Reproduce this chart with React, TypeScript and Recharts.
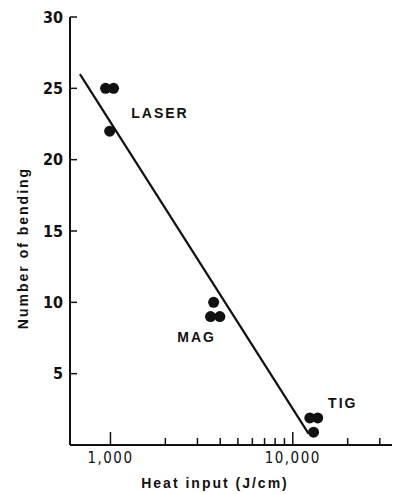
import { ComposedChart, Label, Line, ReferenceDot, Scatter, XAxis, YAxis } from 'recharts'

// measured points (heat input J/cm, number of bendings)
const laserHeat = [940, 1040, 990]
const laserBends = [25, 25, 22]
const magHeat = [3680, 3540, 3980]
const magBends = [10, 9, 9]
const tigHeat = [12400, 13700, 13000]
const tigBends = [1.9, 1.9, 0.9]

// fitted line end points
const fitHeat = [680, 12200]
const fitBends = [26, 0.8]

const groupNames = ['LASER', 'MAG', 'TIG']
const labelHeat = [1870, 2970, 18800]
const labelBends = [23.3, 7.6, 2.95]

const xTicks = [1000, 2000, 3000, 4000, 5000, 6000, 7000, 8000, 9000, 10000, 20000, 30000]
const xTickLabels: Record<number, string> = { 1000: '1,000', 10000: '10,000' }
const yTicks = [5, 10, 15, 20, 25, 30]

const INK = '#111'
const TICK_FONT = '"Liberation Sans Narrow", "DejaVu Sans Condensed", "Liberation Sans", sans-serif'
const LABEL_FONT = '"Liberation Sans", Arial, sans-serif'

const zip = (xs: number[], ys: number[]) => xs.map((x, i) => ({ x, y: ys[i] }))
const points = [
  ...zip(laserHeat, laserBends),
  ...zip(magHeat, magBends),
  ...zip(tigHeat, tigBends),
]
const fit = zip(fitHeat, fitBends)

function XTick({ x, y, payload }: any) {
  const text = xTickLabels[payload.value]
  return (
    <g>
      <line x1={x} x2={x} y1={y} y2={y - (text ? 13 : 7)} stroke={INK} strokeWidth={1.5} />
      {text && (
        <text x={x} y={y + 18} textAnchor="middle" fill={INK} fontFamily={TICK_FONT}
          fontSize={15} letterSpacing={1.5}>
          {text}
        </text>
      )}
    </g>
  )
}

function YTick({ x, y, payload }: any) {
  return (
    <g>
      <line x1={x} x2={x + 7} y1={y} y2={y} stroke={INK} strokeWidth={1.5} />
      <text x={x - 7} y={y} dy="0.35em" textAnchor="end" fill={INK} fontFamily={TICK_FONT}
        fontSize={16} fontWeight="bold">
        {payload.value}
      </text>
    </g>
  )
}

const Dot = ({ cx, cy }: any) => <circle cx={cx} cy={cy} r={5.5} fill={INK} />

export default function App() {
  return (
    <div style={{ position: 'absolute', left: 0, top: 0, background: '#fff' }}>
      <ComposedChart width={397} height={494} margin={{ top: 17, right: 5, bottom: 19, left: 30 }}>
        <XAxis dataKey="x" type="number" scale="log" domain={[600, 35000]} allowDataOverflow
          ticks={xTicks} interval={0} tickSize={0} tickMargin={0} tick={<XTick />}
          axisLine={{ stroke: INK, strokeWidth: 2 }} tickLine={false} height={30}>
          <Label content={({ viewBox }: any) => (
            <text x={viewBox.x + viewBox.width / 2 - 16} y={viewBox.y + 43} textAnchor="middle"
              fill={INK} fontFamily={LABEL_FONT} fontSize={14} fontWeight="bold" letterSpacing={2}>
              Heat input (J/cm)
            </text>
          )} />
        </XAxis>
        <YAxis dataKey="y" type="number" domain={[0, 30]} ticks={yTicks} interval={0}
          tickSize={0} tickMargin={0} tick={<YTick />} width={40}
          axisLine={{ stroke: INK, strokeWidth: 2 }} tickLine={false}>
          <Label content={({ viewBox }: any) => (
            <text x={viewBox.x - 7} y={248} textAnchor="middle" dominantBaseline="central"
              transform={`rotate(-90, ${viewBox.x - 7}, 248)`} fill={INK} fontFamily={LABEL_FONT}
              fontSize={14} fontWeight="bold" letterSpacing={2}>
              Number of bending
            </text>
          )} />
        </YAxis>
        <Line data={fit} dataKey="y" type="linear" stroke={INK} strokeWidth={2.2} dot={false}
          activeDot={false} isAnimationActive={false} />
        <Scatter data={points} dataKey="y" shape={<Dot />} isAnimationActive={false} />
        {groupNames.map((name, i) => (
          <ReferenceDot key={name} x={labelHeat[i]} y={labelBends[i]} r={0} stroke="none"
            label={{ value: name, position: 'center', fill: INK, fontFamily: LABEL_FONT,
              fontSize: 14, fontWeight: 'bold', letterSpacing: 2 }} />
        ))}
      </ComposedChart>
    </div>
  )
}
